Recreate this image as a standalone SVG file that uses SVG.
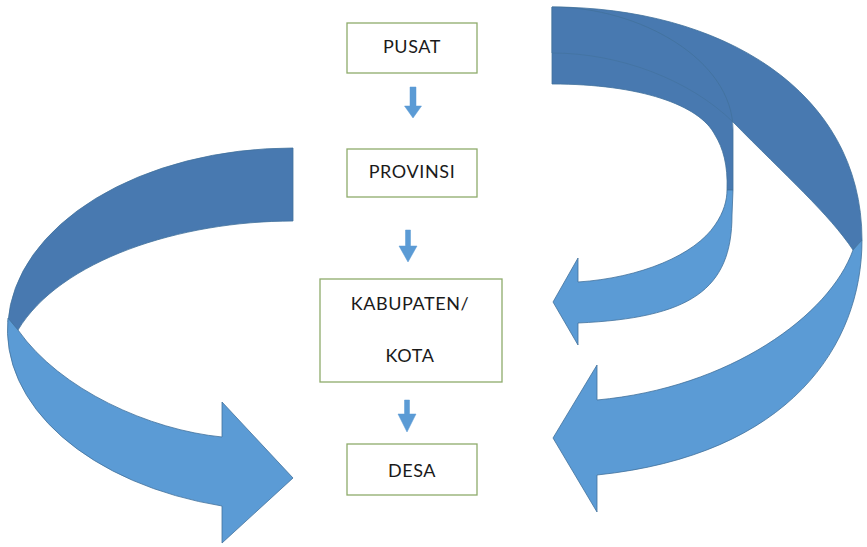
<svg xmlns="http://www.w3.org/2000/svg" width="867" height="547" viewBox="0 0 867 547">
  <style>
    .box { fill: #ffffff; stroke: #8eab6b; stroke-width: 1.3; }
    .label { font-family: Lato, "Liberation Sans", sans-serif; font-size: 18px; fill: #1a1a1a; text-anchor: middle; letter-spacing: 0.6px; }
    .back { fill: #4879b0; stroke: #41719c; stroke-width: 0.8; stroke-linejoin: round; }
    .front { fill: #5b9bd5; stroke: #41719c; stroke-width: 0.8; stroke-linejoin: round; }
    .faint { fill: none; stroke: #41719c; stroke-width: 0.9; opacity: 0.7; }
    .small { fill: #5b9bd5; stroke: #5b9bd5; stroke-width: 0.5; }
  </style>
  <rect width="867" height="547" fill="#ffffff"/>

  <g id="connectors">
    <!-- small downward arrows -->
    <path class="small" d="M 410,87 L 416,87 L 416,106 L 421.5,106 L 413,118 L 404.5,106 L 410,106 Z"/>
    <path class="small" d="M 405.5,230 L 410.5,230 L 410.5,246 L 417,246 L 408,262 L 399,246 L 405.5,246 Z"/>
    <path class="small" d="M 404.5,400 L 409.5,400 L 409.5,414 L 416,414 L 407,432 L 398,414 L 404.5,414 Z"/>

    <!-- left curved arrow (to DESA) -->
    <g id="left-curved-arrow">
      <path class="back" d="M 293,148 A 285 182 0 0 0 8,322 L 18,330 C 60,260 180,221 293,221 Z"/>
      <path class="front" d="M 8,318 A 285 182 0 0 0 222,506 L 222,543 L 293,478 L 222,402 L 222,437 C 150,430 60,390 18,330 Z"/>
    </g>

    <!-- right big curved arrow (to DESA) -->
    <g id="right-big-arrow">
      <path class="back" d="M 552,7 C 720,7 862,90 862,240 L 853,250 C 830,215 785,175 733,122 C 690,80 620,53 552,53 Z"/>
      <path class="front" d="M 862,240 C 862,345 790,455 597,475 L 597,512 L 553,438 L 597,365 L 597,400 C 730,388 830,315 853,250 Z"/>
    </g>

    <!-- right small curved arrow (to KABUPATEN/KOTA) -->
    <g id="right-small-arrow">
      <path class="back" d="M 552,7 C 640,7 733,60 733,130 L 733,190 L 727,190 C 728,165 723,148 715,135 C 700,105 640,84 552,84 Z"/>
      <path class="front" d="M 733,190 L 732,215 C 732,290 690,318 578,323 L 578,345 L 553,302 L 578,258 L 578,282 C 640,278 695,255 715,225 C 724,212 727,200 727,190 Z"/>
      <path class="faint" d="M 552,53 C 620,53 690,80 733,122"/>
    </g>
  </g>

  <g id="pusat">
    <rect class="box" x="347" y="23" width="130" height="50"/>
    <text class="label" x="412" y="53">PUSAT</text>
  </g>
  <g id="provinsi">
    <rect class="box" x="347" y="149" width="130" height="48"/>
    <text class="label" x="412" y="178">PROVINSI</text>
  </g>
  <g id="kabupaten">
    <rect class="box" x="320" y="279" width="182" height="103"/>
    <text class="label" x="410" y="310">KABUPATEN/</text>
    <text class="label" x="410" y="362">KOTA</text>
  </g>
  <g id="desa">
    <rect class="box" x="347" y="444" width="130" height="51"/>
    <text class="label" x="412" y="477">DESA</text>
  </g>
</svg>
